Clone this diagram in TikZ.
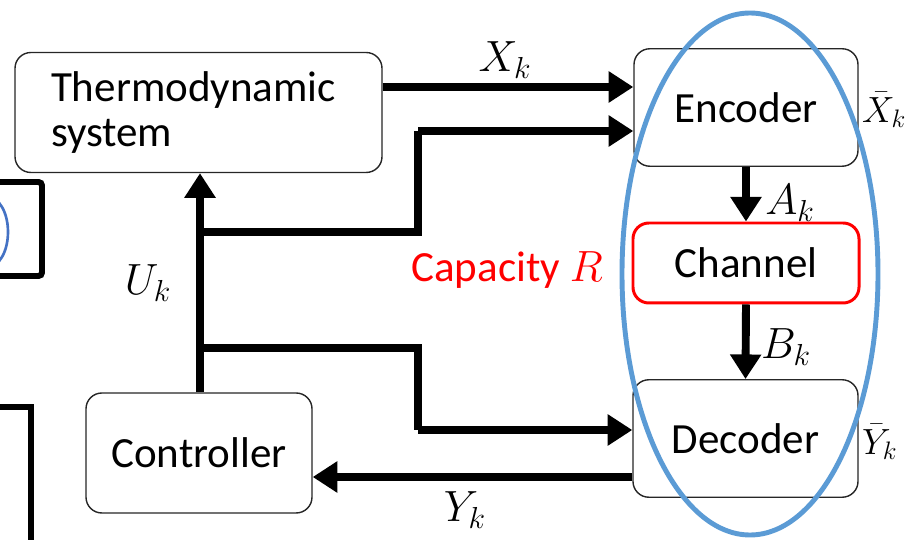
\documentclass[tikz,border=0pt]{standalone}
\usepackage{amsmath,amssymb}
\usepackage{xcolor}
\usepackage{fontspec}
\setmainfont{Carlito}
\usepackage{tikz}
\usetikzlibrary{shapes,arrows.meta,positioning}

\definecolor{ovalblue}{RGB}{91,155,213}
\definecolor{arcblue}{RGB}{68,114,196}

\begin{document}
\begin{tikzpicture}[
    x=0.02cm, y=-0.02cm,
    font=\fontsize{24.5}{26}\selectfont,
    block/.style={rectangle, draw=black!85, line width=0.8pt, rounded corners=9pt, fill=white, minimum width=#1*0.02cm, minimum height=2.35cm},
    flow/.style={line width=4.5pt, -{Triangle[length=14pt, width=17pt]}},
    wire/.style={line width=4.5pt},
    tag/.style={inner sep=1pt}
]
    \useasboundingbox (0,0) rectangle (910,540);
    \clip (0,0) rectangle (910,540);

    % Cut-off pieces at the left edge
    \draw[line width=3.4pt, rounded corners=2pt] (-20,182) rectangle (42,276);
    \draw[arcblue, line width=1.5pt] (-12,232) ellipse [x radius=20, y radius=35];
    \draw[line width=3.4pt] (-20,407) -- (31,407) -- (31,560);

    % Blocks
    \node[block=367, text width=5.9cm, inner xsep=0.72cm, align=left, minimum height=2.4cm] (thermo) at (198.5,112.5) {Thermodynamic\\system};
    \node[block=224] (enc) at (746,107.5) {Encoder};
    \node[block=226, draw=red, line width=1.7pt, minimum height=1.6cm] (chan) at (746,263) {Channel};
    \node[block=225] (dec) at (745.5,438.5) {Decoder};
    \node[block=226, minimum height=2.4cm] (ctrl) at (199,453) {Controller};

    % Junctions
    \coordinate (xrow) at (0,87);
    \coordinate (yrow) at (0,477);
    \coordinate (upsplit) at (200,232);
    \coordinate (upbend) at (418,131);
    \coordinate (lowsplit) at (200,348);
    \coordinate (lowbend) at (418,430);

    % Connectors
    \draw[flow] (thermo.east |- xrow) -- (enc.west |- xrow);
    \draw[flow] (ctrl.north -| upsplit) -- (thermo.south -| upsplit);
    \draw[wire] (upsplit) -| (upbend);
    \draw[flow] (upbend) -- (enc.west |- upbend);
    \draw[wire] (lowsplit) -| (lowbend);
    \draw[flow] (lowbend) -- (dec.west |- lowbend);
    \draw[flow] (dec.west |- yrow) -- (ctrl.east |- yrow);
    \draw[flow] (enc.south) -- (chan.north);
    \draw[flow] (chan.south) -- (dec.north);

    % Labels
    \node[tag] (xk) at (505,60) {$X_k$};
    \node[tag] (uk) at (148,283) {$U_k$};
    \node[tag] (yk) at (465,510) {$Y_k$};
    \node[tag] (ak) at (790,203) {$A_k$};
    \node[tag] (bk) at (786,347) {$B_k$};
    \node[tag, anchor=west, font=\fontsize{22.5}{24}\selectfont] (xbar) at (860,110) {$\bar{X}_k$};
    \node[tag, anchor=west, font=\fontsize{22.5}{24}\selectfont] (ybar) at (860,442) {$\bar{Y}_k$};
    \node[text=red] (cap) at (507,270) {Capacity $R$};

    % Oval round the coding part
    \draw[ovalblue, line width=2.8pt] (750,274) ellipse [x radius=128, y radius=261];
\end{tikzpicture}
\end{document}
